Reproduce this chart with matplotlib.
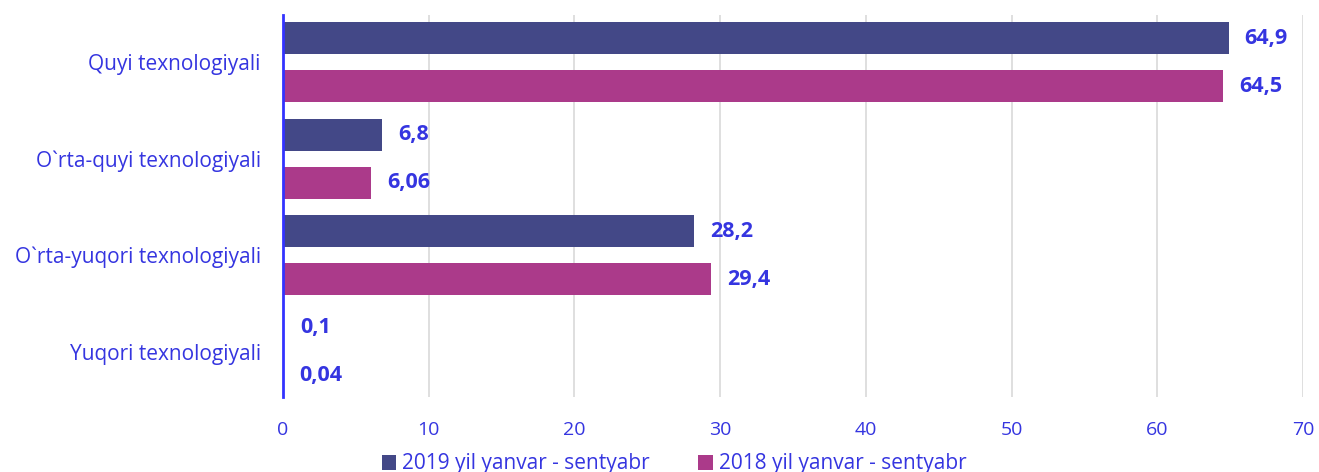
import matplotlib
matplotlib.use('Agg')
import matplotlib.pyplot as plt
import numpy as np

# Ma'lumotlar
kategoriyalar = ['Quyi texnologiyali', 'O`rta-quyi texnologiyali',
                 'O`rta-yuqori texnologiyali', 'Yuqori texnologiyali']
qiymat_2019 = [64.9, 6.8, 28.2, 0.1]
qiymat_2018 = [64.5, 6.06, 29.4, 0.04]
yorliq_2019 = ['64,9', '6,8', '28,2', '0,1']
yorliq_2018 = ['64,5', '6,06', '29,4', '0,04']
seriya_nomlari = ['2019 yil yanvar - sentyabr', '2018 yil yanvar - sentyabr']

rang_2019 = '#434887'
rang_2018 = '#ab3a8a'
matn_rangi = '#3535e0'

plt.rcParams['font.family'] = ['Open Sans', 'DejaVu Sans']

fig = plt.figure(figsize=(13.19, 4.72), dpi=100)
ax = fig.add_axes([283 / 1319, 1 - 397 / 472, (1303 - 283) / 1319, (397 - 15) / 472])

y = np.arange(len(kategoriyalar))
h = 0.33
b1 = ax.barh(y - 0.25, qiymat_2019, height=h, color=rang_2019, label=seriya_nomlari[0], zorder=3)
b2 = ax.barh(y + 0.25, qiymat_2018, height=h, color=rang_2018, label=seriya_nomlari[1], zorder=3)

# Qiymat yorliqlari
for bars, yorliqlar in ((b1, yorliq_2019), (b2, yorliq_2018)):
    for bar, t in zip(bars, yorliqlar):
        ax.text(bar.get_width() + 1.1, bar.get_y() + bar.get_height() / 2, t,
                va='center', ha='left', fontsize=15.5, fontweight='bold', color=matn_rangi)

ax.set_xlim(0, 70)
ax.set_ylim(3.47, -0.49)
ax.set_xticks(range(0, 71, 10))
ax.set_yticks(y)
ax.set_yticklabels(kategoriyalar)
ax.tick_params(axis='x', length=0, labelsize=14, labelcolor=matn_rangi, pad=17)
ax.tick_params(axis='y', length=0, labelsize=15, labelcolor=matn_rangi, pad=16)

ax.grid(axis='x', color='#d9d9d9', linewidth=1.2, zorder=0)
for s in ('top', 'right', 'bottom'):
    ax.spines[s].set_visible(False)
ax.spines['left'].set_color('#3333ff')
ax.spines['left'].set_linewidth(2)
ax.spines['left'].set_zorder(4)

fig.legend(loc='center', bbox_to_anchor=(674 / 1319, 1 - 464 / 472), ncol=2, frameon=False,
           fontsize=15, labelcolor=matn_rangi, handlelength=0.7, handleheight=0.7,
           handletextpad=0.3, columnspacing=2.3)

fig.savefig('out.png', dpi=100)
